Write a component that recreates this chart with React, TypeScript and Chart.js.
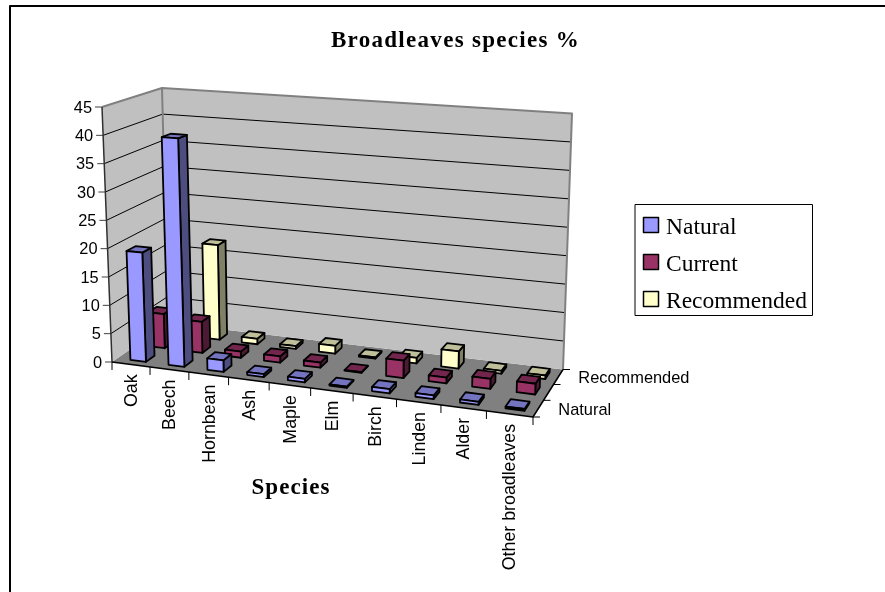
import { useEffect, useRef } from "react";
import { Chart, registerables } from "chart.js";

Chart.register(...registerables);

const species = ["Oak", "Beech", "Hornbean", "Ash", "Maple", "Elm", "Birch", "Linden", "Alder", "Other broadleaves"];
const natural = [19.3, 40, 2, 0.5, 0.6, 0.2, 0.7, 0.6, 0.5, 0.3];
const current = [6.2, 5.6, 1.1, 1.1, 0.9, 0.1, 3, 1, 1.7, 1.8];
const recommended = [5, 17.5, 1, 0.5, 1.4, 0.2, 1, 3, 0.5, 0.6];
const valueTicks = { min: 0, max: 45, step: 5 };
const chartTitle = "Broadleaves species %";
const xAxisTitle = "Species";

type Pt = [number, number];
const homography = (A: Pt, B: Pt, C: Pt, D: Pt) => {
  const dx1 = B[0] - C[0], dx2 = D[0] - C[0], sx = A[0] - B[0] + C[0] - D[0];
  const dy1 = B[1] - C[1], dy2 = D[1] - C[1], sy = A[1] - B[1] + C[1] - D[1];
  const den = dx1 * dy2 - dx2 * dy1;
  const g = (sx * dy2 - dx2 * sy) / den, h = (dx1 * sy - sx * dy1) / den;
  const a = B[0] - A[0] + g * B[0], b = D[0] - A[0] + h * D[0];
  const d = B[1] - A[1] + g * B[1], e = D[1] - A[1] + h * D[1];
  return (u: number, v: number): Pt => {
    const q = g * u + h * v + 1;
    return [(a * u + b * v + A[0]) / q, (d * u + e * v + A[1]) / q];
  };
};
// view of the unit cube: floor and ceiling corners (front-left, front-right, back-right, back-left)
const floorAt = homography([112, 362], [533, 417], [563, 369.5], [168, 323]);
const ceilAt = homography([102, 107], [540, 137], [572, 113.5], [162, 88]);
const P = (u: number, v: number, w: number): Pt => {
  const f = floorAt(u, v), c = ceilAt(u, v);
  return [f[0] + (c[0] - f[0]) * w, f[1] + (c[1] - f[1]) * w];
};

const SANS = '"Liberation Sans", Arial, sans-serif';
const SERIF = '"Liberation Serif", "Times New Roman", serif';

const poly = (ctx: CanvasRenderingContext2D, pts: Pt[], fill: string | null, stroke: string | null, lw = 1) => {
  ctx.beginPath();
  pts.forEach((p, i) => (i ? ctx.lineTo(p[0], p[1]) : ctx.moveTo(p[0], p[1])));
  if (fill) { ctx.closePath(); ctx.fillStyle = fill; ctx.fill(); }
  if (stroke) { ctx.strokeStyle = stroke; ctx.lineWidth = lw; ctx.lineJoin = "round"; ctx.stroke(); }
};

const scene3d = {
  id: "scene3d",
  beforeDraw(chart: any) {
    const ctx = chart.ctx;
    poly(ctx, [[10, 592], [10, 6], [885, 6]], null, "#000000", 2);
    ctx.letterSpacing = "1.3px";
  },
  beforeDatasetsDraw(chart: any) {
    const ctx = chart.ctx;
    ctx.letterSpacing = "0px";
    const ys = chart.scales.y;
    const wOf = (val: number) => (ys.bottom - ys.getPixelForValue(val)) / (ys.bottom - ys.top);
    // floor and walls
    poly(ctx, [P(0, 0, 0), P(1, 0, 0), P(1, 1, 0), P(0, 1, 0)], "#808080", null);
    poly(ctx, [P(0, 0, 0), P(0, 1, 0), P(0, 1, 1), P(0, 0, 1)], "#C0C0C0", null);
    poly(ctx, [P(0, 1, 0), P(1, 1, 0), P(1, 1, 1), P(0, 1, 1)], "#C0C0C0", null);
    // gridlines and value axis
    ctx.textAlign = "right";
    ctx.textBaseline = "middle";
    ctx.font = `16.4px ${SANS}`;
    ys.ticks.forEach((t: any) => {
      const w = wOf(t.value);
      if (t.value > valueTicks.min && t.value < valueTicks.max) {
        poly(ctx, [P(0, 0, w), P(0, 1, w), P(1, 1, w)], null, "#000000", 1);
      }
      const a = P(0, 0, w);
      poly(ctx, [[a[0] - 7, a[1]], a], null, "#404040", 1);
      ctx.fillStyle = "#000000";
      ctx.fillText(String(t.value), a[0] - 10, a[1] + 1);
    });
    poly(ctx, [P(0, 0, 1), P(0, 1, 1), P(1, 1, 1), P(1, 1, 0)], null, "#808080", 2);
    poly(ctx, [P(0, 1, 1), P(0, 1, 0)], null, "#808080", 2);
    poly(ctx, [P(0, 0, 1), P(0, 0, 0)], null, "#303030", 1.5);
    // floor edges and ticks
    poly(ctx, [P(0, 0, 0), P(1, 0, 0), P(1, 1, 0)], null, "#000000", 1.5);
    const n = chart.data.labels.length;
    for (let i = 0; i <= n; i++) {
      const p = P(i / n, 0, 0);
      poly(ctx, [p, [p[0], p[1] + 8]], null, "#000000", 1);
    }
    const m = chart.data.datasets.length;
    for (let d = 0; d <= m; d++) {
      const p = P(1, d / m, 0);
      poly(ctx, [p, [p[0] + 7, p[1]]], null, "#000000", 1);
    }
    // depth labels
    ctx.fillStyle = "#000000";
    ctx.textAlign = "left";
    chart.data.datasets.forEach((ds: any, d: number) => {
      if (d % 2) return;
      const p = P(1, (d + 0.5) / m, 0);
      ctx.fillText(ds.label, p[0] + 20, p[1] + 2);
    });
    // category labels
    ctx.font = `17.8px ${SANS}`;
    for (let i = 0; i < n; i++) {
      const p = P((i + 0.5) / n, 0, 0);
      ctx.save();
      ctx.translate(p[0] + 1, p[1] + 10);
      ctx.rotate(-Math.PI / 2);
      ctx.textAlign = "right";
      ctx.textBaseline = "middle";
      ctx.fillText(chart.scales.x.getLabelForValue(i), 0, 0);
      ctx.restore();
    }
    // axis title
    ctx.font = `bold 23px ${SERIF}`;
    ctx.letterSpacing = "1.1px";
    ctx.textAlign = "center";
    ctx.fillText(xAxisTitle, 291, 488);
    ctx.letterSpacing = "0px";
    // legend
    poly(ctx, [[635, 204.5], [812.5, 204.5], [812.5, 315.5], [635, 315.5]], "#FFFFFF", "#000000", 1);
    ctx.textAlign = "left";
    ctx.font = `23.5px ${SERIF}`;
    chart.data.datasets.forEach((ds: any, d: number) => {
      const y = 217.5 + d * 37;
      poly(ctx, [[643.5, y], [658.5, y], [658.5, y + 15], [643.5, y + 15]], ds.backgroundColor, "#000000", 1.5);
      ctx.fillStyle = "#000000";
      ctx.fillText(ds.label, 666, y + 10);
    });
  },
  beforeDatasetDraw(chart: any, args: any) {
    const ctx = chart.ctx;
    const { index, meta } = args;
    const ds = chart.data.datasets[index];
    const xs = chart.scales.x, ys = chart.scales.y;
    const m = chart.data.datasets.length;
    const dv = 0.075;
    const du = 0.005;
    const vc = (index + 0.5) / m;
    const lw = 1.8;
    meta.data.forEach((el: any) => {
      const u0 = (el.x - el.width / 2 - xs.left) / (xs.right - xs.left) + du;
      const u1 = (el.x + el.width / 2 - xs.left) / (xs.right - xs.left) + du;
      const w = (el.base - el.y) / (ys.bottom - ys.top);
      const v0 = vc - dv, v1 = vc + dv;
      poly(ctx, [P(u1, v0, 0), P(u1, v1, 0), P(u1, v1, w), P(u1, v0, w)], ds.sideColor, "#000000", lw);
      poly(ctx, [P(u0, v0, w), P(u1, v0, w), P(u1, v1, w), P(u0, v1, w)], ds.topColor, "#000000", lw);
      poly(ctx, [P(u0, v0, 0), P(u1, v0, 0), P(u1, v0, w), P(u0, v0, w)], ds.backgroundColor, "#000000", lw);
    });
    return false;
  },
};

export default function App() {
  const ref = useRef<HTMLCanvasElement>(null);
  useEffect(() => {
    const chart = new Chart(ref.current!, {
      type: "bar",
      plugins: [scene3d],
      data: {
        labels: species,
        datasets: [
          { label: "Natural", data: natural, backgroundColor: "#9999FF", sideColor: "#4D4D80", topColor: "#7373BF" },
          { label: "Current", data: current, backgroundColor: "#993366", sideColor: "#4D1A33", topColor: "#73264D" },
          { label: "Recommended", data: recommended, backgroundColor: "#FFFFCC", sideColor: "#808066", topColor: "#BFBF99" },
        ] as any,
      },
      options: {
        responsive: false,
        animation: false,
        layout: { padding: { left: 26 } },
        datasets: { bar: { grouped: false, barPercentage: 1, categoryPercentage: 0.41 } },
        scales: {
          x: { display: false, ticks: { autoSkip: false } },
          y: { display: false, min: valueTicks.min, max: valueTicks.max, ticks: { stepSize: valueTicks.step } },
        },
        plugins: {
          legend: { display: false },
          tooltip: { enabled: false },
          title: {
            display: true,
            text: chartTitle,
            color: "#000000",
            font: { family: SERIF, size: 23, weight: "bold" },
            padding: { top: 27, bottom: 10 },
          },
        },
      } as any,
    });
    return () => chart.destroy();
  }, []);
  return (
    <div style={{ position: "absolute", left: 0, top: 0, width: 885, height: 592 }}>
      <canvas ref={ref} width={885} height={592} style={{ display: "block" }} />
    </div>
  );
}
